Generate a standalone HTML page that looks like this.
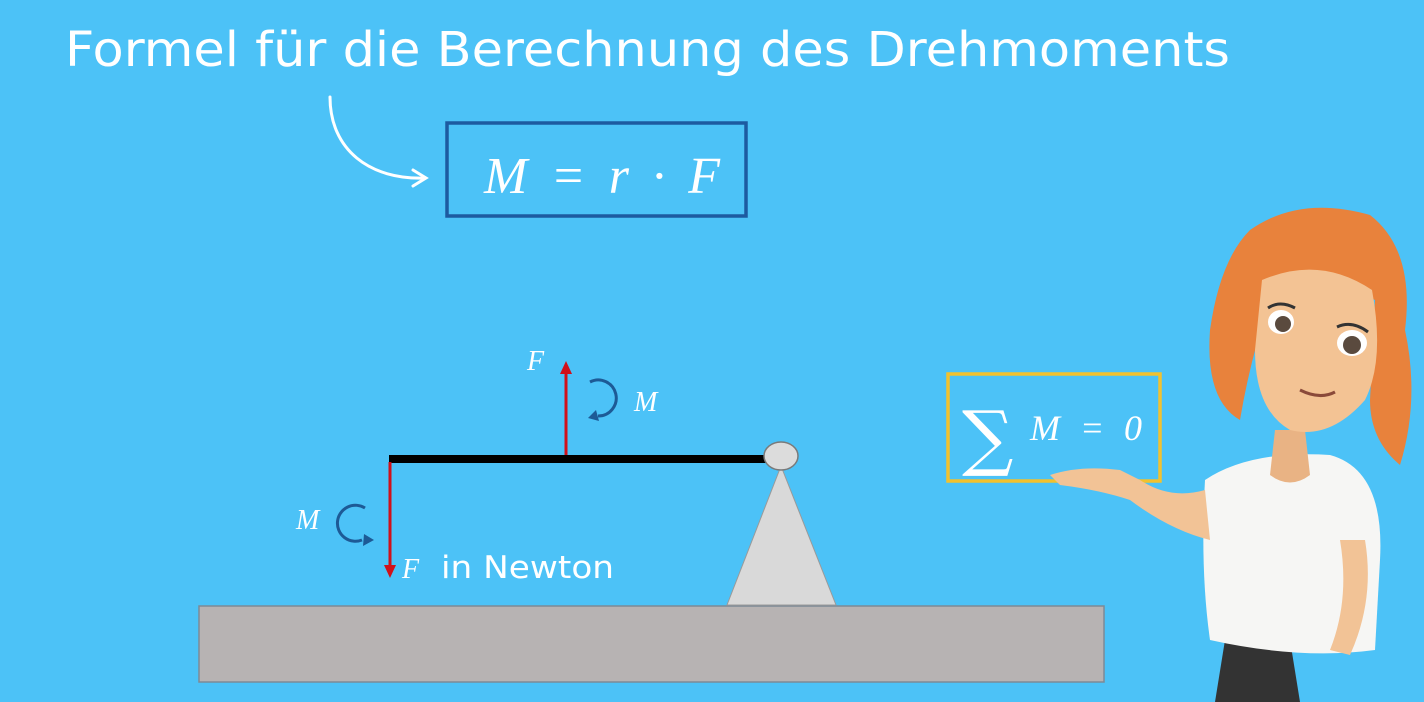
<!DOCTYPE html>
<html><head><meta charset="utf-8"><style>
html,body{margin:0;padding:0;width:1424px;height:702px;overflow:hidden;background:#4cc2f7;}
svg{display:block}
</style></head><body>
<svg width="1424" height="702" viewBox="0 0 1424 702">
<rect width="1424" height="702" fill="#4cc2f7"/>
<text x="65" y="66" fill="#fff" font-family="'DejaVu Sans','Liberation Sans',sans-serif" font-size="48" textLength="1165" lengthAdjust="spacingAndGlyphs">Formel für die Berechnung des Drehmoments</text>
<g fill="none" stroke="#fff" stroke-width="3" stroke-linecap="round">
<path d="M330 97 C 330 150, 370 180, 425 178"/>
<path d="M413 170 L426 178 L413 186"/>
</g>
<rect x="447" y="123" width="299" height="93" fill="none" stroke="#1d5aa0" stroke-width="3.5"/>
<text x="484" y="193" fill="#fff" font-family="'Liberation Serif',serif" font-style="italic" font-size="52" textLength="236" lengthAdjust="spacing">M = r · F</text>
<rect x="199" y="606" width="905" height="76" fill="#b7b3b3" stroke="#7d8a96" stroke-width="1.5"/>
<polygon points="781,466 727,605 836,605" fill="#d9d9d9" stroke="#9a9a9a" stroke-width="1"/>
<line x1="389" y1="459" x2="772" y2="459" stroke="#000" stroke-width="8"/>
<ellipse cx="781" cy="456" rx="17" ry="14" fill="#dcdcdc" stroke="#7a7a7a" stroke-width="1.5"/>
<g>
<line x1="566" y1="455" x2="566" y2="372" stroke="#d0101a" stroke-width="3"/>
<polygon points="560,374 566,361 572,374" fill="#d0101a"/>
</g>
<g>
<line x1="390" y1="462" x2="390" y2="566" stroke="#d0101a" stroke-width="3"/>
<polygon points="384,565 390,578 396,565" fill="#d0101a"/>
</g>
<text x="527" y="370" fill="#fff" font-family="'Liberation Serif',serif" font-style="italic" font-size="28">F</text>
<text x="634" y="411" fill="#fff" font-family="'Liberation Serif',serif" font-style="italic" font-size="28">M</text>
<text x="296" y="529" fill="#fff" font-family="'Liberation Serif',serif" font-style="italic" font-size="28">M</text>
<text x="402" y="578" fill="#fff" font-family="'Liberation Serif',serif" font-style="italic" font-size="28">F</text>
<text x="441" y="578" fill="#fff" font-family="'DejaVu Sans','Liberation Sans',sans-serif" font-size="31" textLength="173" lengthAdjust="spacingAndGlyphs">in Newton</text>
<g fill="none" stroke="#1d5a96" stroke-width="3">
<path d="M590 382 A 18 18 0 1 1 598 416"/>
<polygon points="596,410 588,418 599,421" fill="#1d5a96" stroke="none"/>
</g>
<g fill="none" stroke="#1d5a96" stroke-width="3">
<path d="M365 508 A 18 18 0 1 0 362 540"/>
<polygon points="364,534 374,540 363,546" fill="#1d5a96" stroke="none"/>
</g>
<rect x="948" y="374" width="212" height="107" fill="none" stroke="#f2c12e" stroke-width="3.5"/>
<text x="962" y="462" fill="#fff" font-family="'DejaVu Serif','Liberation Serif',serif" font-size="72">∑</text>
<text x="1030" y="440" fill="#fff" font-family="'Liberation Serif',serif" font-style="italic" font-size="36" textLength="112" lengthAdjust="spacing">M = 0</text>
<g>
<path d="M1215 702 L1225 640 L1290 640 L1300 702 Z" fill="#333"/>
<path d="M1205 480 Q1250 450 1330 455 Q1385 470 1380 560 L1375 650 Q1300 660 1210 640 Q1200 570 1205 480 Z" fill="#f6f6f4"/>
<path d="M1205 490 Q1170 500 1140 480 L1120 470 Q1080 465 1050 475 L1060 485 Q1100 490 1130 500 Q1170 530 1210 540 Z" fill="#f2c396"/>
<path d="M1340 540 Q1350 600 1330 650 L1350 655 Q1375 600 1365 540 Z" fill="#f2c396"/>
<path d="M1275 430 L1270 475 Q1290 490 1310 475 L1305 430 Z" fill="#e9b384"/>
<path d="M1250 230 Q1300 195 1370 215 Q1415 250 1405 330 Q1420 400 1400 465 Q1370 440 1370 400 L1375 300 Q1330 280 1270 300 Q1250 360 1240 420 Q1205 400 1210 330 Q1220 260 1250 230 Z" fill="#e8823c"/>
<path d="M1262 280 Q1320 255 1372 290 Q1385 360 1365 400 Q1330 440 1290 430 Q1255 410 1255 350 Z" fill="#f3c394"/>
<ellipse cx="1281" cy="322" rx="13" ry="12" fill="#fff"/>
<ellipse cx="1352" cy="343" rx="15" ry="13" fill="#fff"/>
<circle cx="1283" cy="324" r="8" fill="#5a4a3e"/>
<circle cx="1352" cy="345" r="9" fill="#5a4a3e"/>
<path d="M1268 308 Q1280 300 1295 308 M1337 327 Q1352 320 1368 332" stroke="#333" stroke-width="3" fill="none"/>
<path d="M1300 390 Q1320 400 1335 392" stroke="#8a4a3a" stroke-width="3" fill="none"/>
</g>
</svg>
</body></html>
